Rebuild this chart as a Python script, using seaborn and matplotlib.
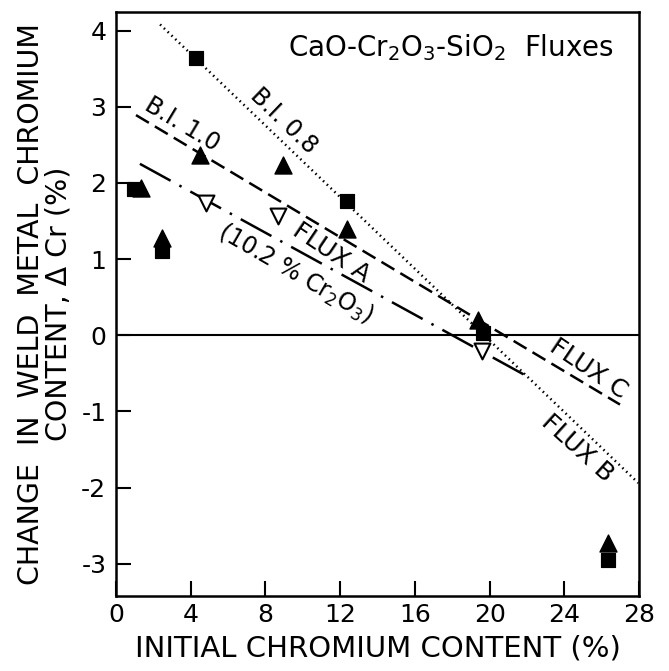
import numpy as np
import pandas as pd
import matplotlib
matplotlib.use("Agg")
import matplotlib.pyplot as plt
import seaborn as sns

# ---- data ----
sq_x = [0.95, 4.28, 2.45, 12.35, 19.66, 26.35]
sq_y = [1.92, 3.64, 1.10, 1.76, 0.03, -2.95]

tri_x = [1.35, 2.45, 4.50, 8.92, 12.35, 19.40, 26.35]
tri_y = [1.93, 1.28, 2.37, 2.23, 1.39, 0.20, -2.73]

open_x = [4.82, 8.69, 19.57]
open_y = [1.74, 1.56, -0.21]

fluxB_x = [2.36, 27.96]
fluxB_y = [4.08, -1.94]
fluxC_x = [1.07, 26.98]
fluxC_y = [2.89, -0.91]
fluxA_x = [1.28, 22.16]
fluxA_y = [2.25, -0.56]

x_ticks = [0, 4, 8, 12, 16, 20, 24, 28]
y_ticks = [-3, -2, -1, 0, 1, 2, 3, 4]

sns.set_style("ticks", rc={
    "text.color": "black", "axes.labelcolor": "black",
    "xtick.color": "black", "ytick.color": "black",
    "axes.edgecolor": "black",
})
plt.rcParams['font.family'] = ['DejaVu Sans']

fig = plt.figure(figsize=(6.69, 6.71), dpi=100)
ax = fig.add_axes([0.1734, 0.1122, 0.9552 - 0.1734, 0.9817 - 0.1122])

ax.axhline(0, color='black', lw=1.5, zorder=1)

sns.lineplot(x=fluxB_x, y=fluxB_y, ax=ax, color='black', lw=1.8,
             linestyle=(0, (0.6, 1.5)), zorder=2)
sns.lineplot(x=fluxC_x, y=fluxC_y, ax=ax, color='black', lw=1.8,
             linestyle=(0, (6, 2.8)), zorder=2)
sns.lineplot(x=fluxA_x, y=fluxA_y, ax=ax, color='black', lw=1.8,
             linestyle=(0, (14, 4, 1, 4)), zorder=2)

sns.scatterplot(x=sq_x, y=sq_y, ax=ax, marker='s', color='black', s=110,
                edgecolor='black', zorder=4)
sns.scatterplot(x=tri_x, y=tri_y, ax=ax, marker='^', color='black', s=150,
                edgecolor='black', zorder=4)
sns.scatterplot(x=open_x, y=open_y, ax=ax, marker='v', color='white', s=130,
                edgecolor='black', linewidth=1.5, zorder=4)

ax.set_xlim(0, 28)
ax.set_ylim(-3.42, 4.24)
ax.set_xticks(x_ticks)
ax.set_yticks(y_ticks)
ax.set_xticklabels([str(t) for t in x_ticks])
ax.set_yticklabels([str(t) for t in y_ticks])
ax.tick_params(direction='in', length=11, width=1.5, labelsize=18)
ax.tick_params(axis='x', pad=5)
ax.tick_params(axis='y', pad=7)
for s in ax.spines.values():
    s.set_linewidth(1.8)
    s.set_visible(True)

ax.set_xlabel("INITIAL CHROMIUM CONTENT (%)", fontsize=21, labelpad=6)
ax.set_ylabel("CHANGE  IN  WELD  METAL  CHROMIUM\nCONTENT, Δ Cr (%)",
              fontsize=20.5, labelpad=6, linespacing=1.0)

ax.text(17.95, 3.78, r"CaO-Cr$_2$O$_3$-SiO$_2$  Fluxes", fontsize=20,
        ha='center', va='center')
ax.text(9.0, 2.82, "B.I. 0.8", fontsize=17, rotation=-44,
        ha='center', va='center', rotation_mode='anchor')
ax.text(3.55, 2.77, "B.I. 1.0", fontsize=17, rotation=-31,
        ha='center', va='center', rotation_mode='anchor')
ax.text(11.55, 1.08, "FLUX A", fontsize=18, rotation=-34,
        ha='center', va='center', rotation_mode='anchor')
ax.text(9.62, 0.80, r"(10.2 % Cr$_2$O$_3$)", fontsize=17, rotation=-30,
        ha='center', va='center', rotation_mode='anchor')
ax.text(25.3, -0.44, "FLUX C", fontsize=18, rotation=-34,
        ha='center', va='center', rotation_mode='anchor')
ax.text(24.7, -1.48, "FLUX B", fontsize=18, rotation=-42,
        ha='center', va='center', rotation_mode='anchor')

fig.savefig("out.png", dpi=100)
